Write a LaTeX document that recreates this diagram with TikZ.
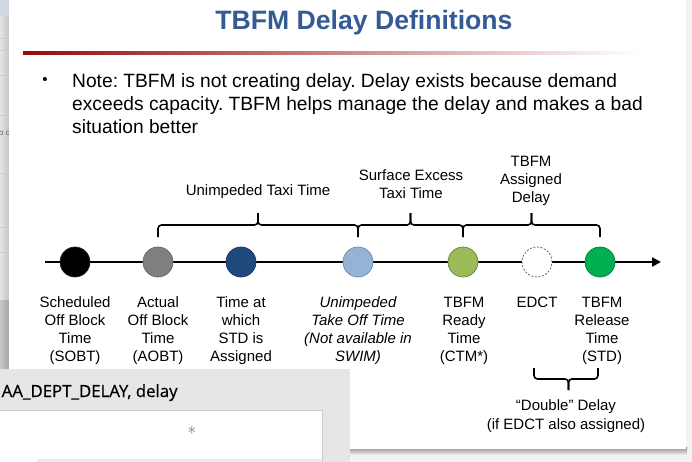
\documentclass[tikz,border=0pt]{standalone}
\usepackage{fontspec}
\setmainfont{Liberation Sans}
\newfontfamily\winfont[FakeBold=0.6]{Open Sans}
\usetikzlibrary{arrows.meta,calc}
\frenchspacing
\definecolor{titleblue}{RGB}{52,91,150}
\definecolor{darkred}{RGB}{150,10,10}
\definecolor{midred}{RGB}{225,175,175}
\definecolor{bgright}{RGB}{243,243,243}
\definecolor{stripgrey}{RGB}{228,228,228}
\definecolor{stripdark}{RGB}{196,196,196}
\definecolor{stripblue}{RGB}{208,216,228}
\definecolor{wingrey}{RGB}{230,230,230}
\definecolor{cgray}{RGB}{128,128,128}
\definecolor{cdblue}{RGB}{31,73,125}
\definecolor{clblue}{RGB}{149,179,215}
\definecolor{colive}{RGB}{155,187,89}
\definecolor{cgreen}{RGB}{0,176,80}
\begin{document}
\begin{tikzpicture}[x=1pt,y=-1pt,
  lbl/.style={font=\fontsize{15}{18}\selectfont, align=center, inner sep=0pt, anchor=north},
  dot/.style={circle, minimum size=30pt, inner sep=0pt, line width=0.7pt},
  brc/.style={line width=1.6pt, rounded corners=3.5pt},
  axisln/.style={line width=2.6pt, -{Triangle[length=9pt,width=9pt]}}]
\useasboundingbox (0,0) rectangle (692,462);
% ---------- background ----------
\fill[bgright] (0,0) rectangle (692,462);
\shade[left color=stripgrey, right color=stripdark] (0,0) rectangle (9,369);
\fill[stripblue] (0,0) rectangle (9,16);
\foreach \yy in {38,50,75,115,173,227,252} \draw[black!20, line width=0.6pt] (0,\yy) -- (9,\yy);
\node[font=\fontsize{8}{9}\selectfont, text=black!60, anchor=west, inner sep=0pt] (frag) at (-1,133) {o c};
\shade[left color=black!22, right color=black!35] (0,300) rectangle (9,369);
% ---------- slide ----------
\shade[top color=black!45, bottom color=bgright] (350,447) rectangle (687,455);
\fill[white] (9,0) rectangle (686,448.5);
\node[font=\fontsize{26.6}{30}\selectfont\bfseries, text=titleblue, anchor=base, inner sep=0pt] (title) at (364,30) {TBFM Delay Definitions};
\shade[left color=darkred, middle color=midred, right color=white] (23,51.5) rectangle (640,54.5);
\node[font=\fontsize{15}{23}\selectfont, inner sep=0pt] (bul) at (45,81.5) {•};
\node[anchor=north west, inner sep=0pt, align=left, font=\fontsize{19.2}{23}\selectfont] (note) at (72,73)
  {Note: TBFM is not creating delay. Delay exists because demand\\
   exceeds capacity. TBFM helps manage the delay and makes a bad\\
   situation better};
% ---------- timeline ----------
\coordinate (tstart) at (45,262);
\coordinate (tend) at (661,262);
\draw[axisln] (tstart) -- (tend);
\node[dot, fill=black, draw=black!85] (sobt) at (75,262) {};
\node[dot, fill=cgray, draw=black!60] (aobt) at (158,262) {};
\node[dot, fill=cdblue, draw=cdblue!75!black] (stdas) at (241,262) {};
\node[dot, fill=clblue, draw=clblue!75!black] (unimp) at (358,262) {};
\node[dot, fill=colive, draw=colive!70!black] (ready) at (463,262) {};
\node[dot, fill=white, draw=black!65, dashed, dash pattern=on 2pt off 1.6pt] (edct) at (537,262) {};
\node[dot, fill=cgreen, draw=cgreen!70!black] (rel) at (600,262) {};
% ---------- labels under the line ----------
\node[lbl] (lsobt) at (75,296.5) {Scheduled\\Off Block\\Time\\(SOBT)};
\node[lbl] (laobt) at (158,296.5) {Actual\\Off Block\\Time\\(AOBT)};
\node[lbl] (lstd) at (241,296.5) {Time at\\which\\STD is\\Assigned};
\node[lbl, font=\fontsize{15}{18}\selectfont\itshape] (lunimp) at (358,296.5) {Unimpeded\\Take Off Time\\(Not available in\\SWIM)};
\node[lbl] (lready) at (464,296.5) {TBFM\\Ready\\Time\\(CTM*)};
\node[lbl] (ledct) at (537,296.5) {EDCT};
\node[lbl] (lrel) at (602,296.5) {TBFM\\Release\\Time\\(STD)};
% ---------- braces above ----------
\coordinate (m1) at ($(aobt)!0.5!(unimp)$);
\coordinate (m2) at ($(unimp)!0.5!(ready)$);
\coordinate (m3) at ($(ready)!0.5!(rel)$);
\draw[brc] ($(aobt)+(0,-25)$) |- ($(m1)+(0,-37)$) -- ($(m1)+(0,-49)$);
\draw[brc] ($(m1)+(0,-49)$) -- ($(m1)+(0,-37)$) -| ($(unimp)+(0,-25)$);
\draw[brc] ($(unimp)+(0,-25)$) |- ($(m2)+(0,-37)$) -- ($(m2)+(0,-49)$);
\draw[brc] ($(m2)+(0,-49)$) -- ($(m2)+(0,-37)$) -| ($(ready)+(0,-25)$);
\draw[brc] ($(ready)+(0,-25)$) |- ($(m3)+(0,-37)$) -- ($(m3)+(0,-49)$);
\draw[brc] ($(m3)+(0,-49)$) -- ($(m3)+(0,-37)$) -| ($(rel)+(0,-25)$);
\node[lbl] (tunimp) at (258,184.5) {Unimpeded Taxi Time};
\node[lbl] (tsurf) at (411,169.5) {Surface Excess\\Taxi Time};
\node[lbl] (tassign) at (531,155.5) {TBFM\\Assigned\\Delay};
% ---------- brace below ----------
\coordinate (m4) at ($(edct)!0.5!(rel)$);
\draw[brc] ($(edct)+(-3,106)$) |- ($(m4)+(0,117)$) -- ($(m4)+(0,128)$);
\draw[brc] ($(m4)+(0,128)$) -- ($(m4)+(0,117)$) -| ($(rel)+(-2,106)$);
\node[lbl, font=\fontsize{15}{18.5}\selectfont] (tdouble) at (566,399.5) {“Double” Delay\\(if EDCT also assigned)};
% ---------- overlapping window ----------
\fill[wingrey] (0,369) rectangle (350,462);
\node[font=\winfont\fontsize{16.8}{18}\selectfont, anchor=base west, inner sep=0pt] (wtitle) at (1.5,397) {AA\_DEPT\_DELAY, delay};
\filldraw[fill=white, draw=black!20, line width=0.7pt] (-2,410) rectangle (322,465);
\fill[black!8] (37,458.5) rectangle (321.6,462);
\node[text=black!55, inner sep=0pt, font=\fontsize{17}{17}\selectfont] (star) at (192,430) {$\ast$};
\end{tikzpicture}
\end{document}
